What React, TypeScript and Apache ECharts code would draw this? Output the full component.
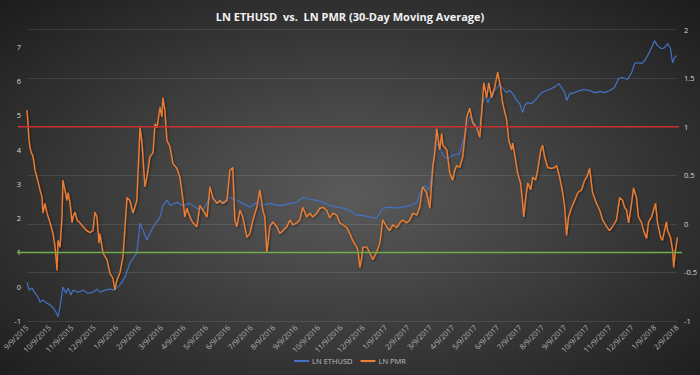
import React, { useEffect, useRef } from 'react';
import * as echarts from 'echarts';

// x values are months elapsed since 9/9/2015
const monthLabels = [
  '9/9/2015', '10/9/2015', '11/9/2015', '12/9/2015',
  '1/9/2016', '2/9/2016', '3/9/2016', '4/9/2016', '5/9/2016', '6/9/2016',
  '7/9/2016', '8/9/2016', '9/9/2016', '10/9/2016', '11/9/2016', '12/9/2016',
  '1/9/2017', '2/9/2017', '3/9/2017', '4/9/2017', '5/9/2017', '6/9/2017',
  '7/9/2017', '8/9/2017', '9/9/2017', '10/9/2017', '11/9/2017', '12/9/2017',
  '1/9/2018', '2/9/2018',
];

const ethPoints: [number, number][] = [
  [0, 0.13], [0.09, -0.1], [0.22, -0.04], [0.36, -0.19], [0.49, -0.3], [0.58, -0.45],
  [0.71, -0.39], [0.89, -0.48], [1.03, -0.53], [1.16, -0.62], [1.29, -0.74], [1.38, -0.88],
  [1.47, -0.59], [1.6, -0.01], [1.74, -0.19], [1.83, -0.04], [1.96, -0.24], [2.05, -0.1],
  [2.27, -0.16], [2.5, -0.1], [2.72, -0.19], [2.94, -0.16], [3.12, -0.07], [3.25, -0.16],
  [3.48, -0.1], [3.7, -0.07], [3.92, -0.1], [4.06, -0.01], [4.23, 0.13], [4.37, 0.28],
  [4.59, 0.69], [4.73, 0.83], [4.9, 0.98],
  [5.04, 1.85], [5.17, 1.65], [5.35, 1.36], [5.48, 1.56], [5.62, 1.73], [5.93, 2.03],
  [6.06, 2.37], [6.24, 2.52], [6.38, 2.37], [6.69, 2.46], [6.96, 2.37], [7.27, 2.43],
  [7.58, 2.29], [7.85, 2.23], [8.16, 2.6], [8.47, 2.46], [8.74, 2.46], [9.05, 2.6],
  [9.36, 2.52], [9.63, 2.43], [9.94, 2.32], [10.25, 2.46], [10.52, 2.37], [10.83, 2.43],
  [11.15, 2.37], [11.41, 2.37], [11.73, 2.43], [12.04, 2.46], [12.3, 2.6], [12.62, 2.55],
  [12.93, 2.52], [13.2, 2.46], [13.51, 2.37], [13.82, 2.32], [14.09, 2.29], [14.4, 2.23],
  [14.71, 2.08], [14.98, 2.08], [15.29, 2.03], [15.6, 2.0], [15.87, 2.29], [16.18, 2.32],
  [16.5, 2.29], [16.76, 2.32], [17.08, 2.37], [17.39, 2.46], [17.52, 2.72], [17.74, 2.96],
  [17.88, 2.81], [17.97, 2.9], [18.1, 3.48], [18.19, 3.97], [18.28, 4.18], [18.41, 4.06],
  [18.55, 3.83], [18.73, 3.74], [18.86, 3.77], [18.99, 3.83], [19.17, 3.86], [19.3, 3.89],
  [19.44, 4.21], [19.62, 4.64], [19.75, 4.99], [19.88, 4.85], [20.06, 4.64], [20.2, 4.64],
  [20.33, 5.34], [20.47, 5.57], [20.56, 5.37], [20.73, 5.63], [20.86, 5.72], [21.09, 5.92],
  [21.22, 5.78], [21.4, 5.66], [21.53, 5.72], [21.67, 5.63], [21.85, 5.43], [21.98, 5.34],
  [22.11, 5.08], [22.2, 5.28], [22.34, 5.37], [22.51, 5.34], [22.65, 5.43], [22.78, 5.52],
  [22.96, 5.66], [23.18, 5.72], [23.41, 5.78], [23.63, 5.87], [23.72, 5.92], [23.85, 5.81],
  [23.99, 5.66], [24.07, 5.43], [24.21, 5.63], [24.43, 5.66], [24.65, 5.72], [24.88, 5.75],
  [25.1, 5.72], [25.32, 5.66], [25.55, 5.69], [25.77, 5.66], [25.99, 5.72], [26.21, 5.81],
  [26.39, 6.07], [26.57, 6.1], [26.79, 6.04], [26.97, 6.24], [27.11, 6.51], [27.24, 6.53],
  [27.42, 6.51], [27.55, 6.59], [27.69, 6.74], [27.86, 6.97], [28.0, 7.17], [28.13, 7.03],
  [28.31, 6.94], [28.44, 6.97], [28.58, 7.09], [28.71, 6.94], [28.8, 6.53], [28.89, 6.68],
  [28.98, 6.74],
];

const pmrPoints: [number, number][] = [
  [0, 1.17], [0.04, 1.03], [0.09, 0.86], [0.13, 0.79], [0.18, 0.74], [0.27, 0.69],
  [0.36, 0.55], [0.45, 0.47], [0.58, 0.35], [0.67, 0.27], [0.71, 0.11], [0.8, 0.21],
  [0.89, 0.11], [1.03, 0.01], [1.16, -0.1], [1.25, -0.24], [1.34, -0.48], [1.38, -0.17],
  [1.47, -0.24], [1.56, 0.07], [1.6, 0.45], [1.69, 0.35], [1.78, 0.24], [1.83, 0.32],
  [1.92, 0.21], [2.01, 0.01], [2.05, 0.07], [2.14, 0.12], [2.23, 0.04], [2.36, 0.01],
  [2.5, -0.03], [2.67, -0.07], [2.81, -0.09], [2.94, -0.07], [3.03, 0.12], [3.12, 0.07],
  [3.21, -0.2], [3.25, -0.1], [3.39, -0.3], [3.57, -0.37], [3.7, -0.51], [3.83, -0.56],
  [3.92, -0.68], [4.01, -0.58], [4.15, -0.5], [4.28, -0.34], [4.46, 0.27], [4.59, 0.24],
  [4.73, 0.11], [4.9, 0.24], [5.04, 0.99], [5.13, 0.83], [5.17, 0.69], [5.26, 0.38],
  [5.35, 0.48], [5.48, 0.69], [5.62, 0.73], [5.71, 1.03], [5.8, 0.99], [5.93, 1.2],
  [6.02, 1.1], [6.06, 1.3], [6.15, 1.17], [6.24, 0.86], [6.38, 0.79], [6.51, 0.62],
  [6.69, 0.57], [6.82, 0.48], [6.96, 0.24], [7.04, 0.07], [7.13, 0.16], [7.27, 0.07],
  [7.4, 0.01], [7.58, -0.03], [7.71, 0.19], [7.85, 0.14], [8.03, 0.07], [8.16, 0.38],
  [8.29, 0.27], [8.47, 0.21], [8.6, 0.24], [8.74, 0.21], [8.92, 0.24], [9.05, 0.55],
  [9.18, 0.58], [9.27, 0.04], [9.36, -0.03], [9.5, 0.14], [9.63, 0.07], [9.81, -0.14],
  [9.94, -0.1], [10.08, 0.04], [10.25, 0.17], [10.39, 0.35], [10.52, 0.14], [10.61, 0.07],
  [10.7, -0.3], [10.83, -0.03], [10.97, 0.02], [11.15, -0.03], [11.28, -0.1], [11.41, -0.07],
  [11.59, -0.03], [11.73, 0.04], [11.86, -0.01], [12.04, 0.01], [12.17, 0.04], [12.3, 0.17],
  [12.48, 0.07], [12.62, 0.11], [12.75, 0.07], [12.93, 0.11], [13.06, 0.16], [13.2, 0.17],
  [13.37, 0.14], [13.51, 0.06], [13.64, 0.11], [13.82, 0.09], [13.95, 0.01], [14.09, -0.01],
  [14.27, -0.04], [14.4, -0.1], [14.53, -0.17], [14.71, -0.24], [14.76, -0.27], [14.85, -0.45],
  [14.94, -0.34], [14.98, -0.24], [15.16, -0.24], [15.29, -0.3], [15.43, -0.37], [15.6, -0.29],
  [15.74, -0.2], [15.87, 0.04], [16.05, -0.03], [16.18, -0.07], [16.32, -0.01], [16.5, -0.04],
  [16.63, 0.01], [16.76, 0.04], [16.94, 0.01], [17.08, 0.04], [17.21, 0.11], [17.39, 0.09],
  [17.52, 0.17], [17.65, 0.38], [17.83, 0.32], [17.97, 0.16], [18.1, 0.58], [18.19, 0.73],
  [18.28, 0.98], [18.41, 0.76], [18.5, 0.93], [18.55, 0.81], [18.73, 0.76], [18.86, 0.52],
  [18.99, 0.45], [19.08, 0.55], [19.17, 0.6], [19.3, 0.58], [19.44, 0.69], [19.62, 1.1],
  [19.75, 1.19], [19.88, 1.04], [20.06, 0.99], [20.2, 0.89], [20.29, 1.17], [20.38, 1.45],
  [20.51, 1.3], [20.6, 1.45], [20.73, 1.3], [20.86, 1.4], [21.0, 1.56], [21.13, 1.4],
  [21.22, 1.24], [21.4, 1.07], [21.49, 0.86], [21.62, 0.76], [21.67, 0.83], [21.8, 0.65],
  [21.89, 0.52], [22.02, 0.42], [22.11, 0.21], [22.16, 0.07], [22.25, 0.27], [22.34, 0.42],
  [22.47, 0.35], [22.56, 0.48], [22.69, 0.45], [22.78, 0.55], [22.92, 0.76], [23.0, 0.81],
  [23.09, 0.69], [23.23, 0.58], [23.41, 0.57], [23.54, 0.58], [23.63, 0.6], [23.76, 0.48],
  [23.9, 0.32], [23.99, 0.17], [24.07, -0.12], [24.16, 0.07], [24.3, 0.17], [24.43, 0.24],
  [24.57, 0.32], [24.74, 0.35], [24.88, 0.45], [24.97, 0.48], [25.1, 0.57], [25.23, 0.32],
  [25.41, 0.21], [25.55, 0.14], [25.68, 0.04], [25.86, -0.03], [25.99, -0.07], [26.12, -0.03],
  [26.3, 0.04], [26.44, 0.27], [26.57, 0.24], [26.66, 0.17], [26.75, 0.14], [26.84, 0.01],
  [26.97, 0.21], [27.06, 0.37], [27.19, 0.27], [27.28, 0.07], [27.42, 0.01], [27.51, -0.07],
  [27.64, -0.15], [27.73, 0.02], [27.86, 0.07], [27.95, 0.14], [28.04, 0.21], [28.13, 0.01],
  [28.27, -0.14], [28.35, -0.17], [28.44, -0.07], [28.53, 0.02], [28.58, -0.07], [28.71, -0.14],
  [28.8, -0.27], [28.85, -0.45], [28.93, -0.27], [29.02, -0.14],
];

const ethReferenceLevel = 1; // left axis, green line
const pmrReferenceLevel = 1; // right axis, red line

const FONT = '"Open Sans", "Noto Sans", sans-serif';

export default function App() {
  const ref = useRef<HTMLDivElement>(null);

  useEffect(() => {
    document.body.style.margin = '0';
    if (!ref.current) return;
    const chart = echarts.init(ref.current, undefined, { renderer: 'svg' });
    chart.setOption({
      animation: false,
      backgroundColor: 'transparent',
      title: {
        text: 'LN ETHUSD  vs.  LN PMR (30-Day Moving Average)',
        left: 'center',
        top: 6,
        textStyle: { color: '#f2f2f2', fontSize: 11, fontWeight: 'bold', fontFamily: FONT },
      },
      legend: {
        bottom: 5,
        left: 'center',
        itemWidth: 15,
        itemHeight: 2,
        itemGap: 8,
        icon: 'rect',
        textStyle: { color: '#bfbfbf', fontSize: 7.5, fontFamily: FONT, padding: [0, 0, 0, -2] },
        data: ['LN ETHUSD', 'LN PMR'],
      },
      grid: { left: 25, right: 22, top: 29.5, bottom: 54 },
      xAxis: {
        type: 'value',
        min: 0,
        max: 29,
        interval: 1,
        axisLine: { show: false },
        axisTick: { show: false },
        splitLine: { show: false },
        axisLabel: {
          rotate: 45,
          margin: 5,
          color: '#b3b3b3',
          fontSize: 7.5,
          fontFamily: FONT,
          formatter: (v: number) => monthLabels[Math.round(v)] ?? '',
        },
      },
      yAxis: [
        {
          type: 'value',
          min: -1,
          max: 7.5,
          interval: 1,
          axisLine: { show: false },
          axisTick: { show: false },
          splitLine: { show: false },
          axisLabel: {
            margin: 6,
            color: '#d9d9d9',
            fontSize: 7.5,
            fontFamily: FONT,
            formatter: (v: number) => (Number.isInteger(v) ? String(v) : ''),
          },
        },
        {
          type: 'value',
          min: -1,
          max: 2,
          interval: 0.5,
          position: 'right',
          axisLine: { show: false },
          axisTick: { show: false },
          splitLine: { show: true, lineStyle: { color: 'rgba(255,255,255,0.1)', width: 1 } },
          axisLabel: { margin: 7, color: '#d9d9d9', fontSize: 7.5, fontFamily: FONT },
        },
      ],
      series: [
        {
          name: 'LN ETHUSD',
          type: 'line',
          yAxisIndex: 0,
          showSymbol: false,
          data: ethPoints,
          color: '#4472c4',
          lineStyle: { color: '#4472c4', width: 1.2 },
        },
        {
          name: 'LN PMR',
          type: 'line',
          yAxisIndex: 1,
          showSymbol: false,
          data: pmrPoints,
          color: '#ed7d31',
          lineStyle: {
            color: '#ed7d31',
            width: 1.4,
            shadowColor: 'rgba(0,0,0,0.55)',
            shadowBlur: 2,
            shadowOffsetX: 1,
            shadowOffsetY: 1,
          },
        },
      ],
    });

    const yGreen = chart.convertToPixel({ yAxisIndex: 0 }, ethReferenceLevel) as number;
    const yRed = chart.convertToPixel({ yAxisIndex: 1 }, pmrReferenceLevel) as number;
    chart.setOption({
      graphic: [
        {
          type: 'line',
          silent: true,
          z: 10,
          shape: { x1: 17, y1: yGreen, x2: 682, y2: yGreen },
          style: { stroke: '#70ad47', lineWidth: 1.5 },
        },
        {
          type: 'line',
          silent: true,
          z: 10,
          shape: { x1: 18, y1: yRed, x2: 679, y2: yRed },
          style: { stroke: '#c9302c', lineWidth: 1.5 },
        },
      ],
    });

    return () => chart.dispose();
  }, []);

  return (
    <div
      ref={ref}
      style={{
        width: 700,
        height: 375,
        background: 'radial-gradient(ellipse farthest-corner at 50% 52%, #5a5a5a 0%, #454545 35%, #1c1c1c 100%)',
      }}
    />
  );
}
